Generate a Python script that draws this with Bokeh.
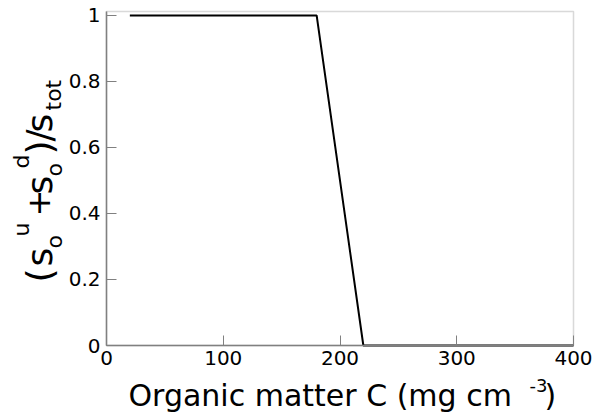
import math
from bokeh.plotting import figure
from bokeh.models import Range1d, Label, FixedTicker, BoxAnnotation
from bokeh.embed import file_html
from bokeh.resources import INLINE

# ---- data ----
carbon = [20, 180, 220, 400]          # organic matter C (mg cm^-3)
fraction = [1, 1, 0, 0]               # (s_o^u + s_o^d)/s_tot
x_ticks = [0, 100, 200, 300, 400]
y_ticks = [0, 0.2, 0.4, 0.6, 0.8, 1]
y_tick_labels = ["0", "0.2", "0.4", "0.6", "0.8", "1"]
x_tick_labels = ["0", "100", "200", "300", "400"]
x_limits = (0, 400)
y_limits = (0, 1.012)

FONT = "DejaVu Sans"
GREY = "#808080"
W, H = 593, 419
# axes box position on the canvas (pixels)
FL, FR, FB, FT = 106, 573, 345, 11
BASE_SHIFT = 0.4   # em offset of Bokeh's text anchor vs. the glyph baseline

sx = (x_limits[1] - x_limits[0]) / (FR - FL)
sy = (y_limits[1] - y_limits[0]) / (FB - FT)
XS = x_limits[0] - FL * sx
XE = XS + W * sx
YE = y_limits[1] + FT * sy
YS = YE - H * sy

def px_to_x(px):
    return XS + px * sx
def py_to_y(py):
    return YE - py * sy

p = figure(width=W, height=H, output_backend="svg", toolbar_location=None,
           x_range=Range1d(XS, XE), y_range=Range1d(YS, YE), min_border=0)
p.background_fill_color = "white"
p.border_fill_color = "white"
p.xgrid.visible = False
p.ygrid.visible = False
p.outline_line_color = None

p.xaxis.fixed_location = y_limits[0]
p.yaxis.fixed_location = x_limits[0]
p.xaxis.bounds = x_limits
p.yaxis.bounds = y_limits
p.xaxis.ticker = FixedTicker(ticks=x_ticks)
p.yaxis.ticker = FixedTicker(ticks=y_ticks)
p.xaxis.major_label_overrides = dict(zip(x_ticks, x_tick_labels))
p.yaxis.major_label_overrides = dict(zip(y_ticks, y_tick_labels))
for ax in (p.xaxis, p.yaxis):
    ax.axis_line_color = GREY
    ax.axis_line_width = 1.5
    ax.major_tick_line_color = GREY
    ax.major_tick_line_width = 1
    ax.major_tick_in = 10
    ax.major_tick_out = 0
    ax.minor_tick_line_color = None
    ax.major_label_text_font = FONT
    ax.major_label_text_font_size = "20px"
    ax.major_label_text_color = "black"
p.xaxis.major_label_standoff = 5
p.yaxis.major_label_standoff = 6

# axes box (top and right edges)
p.add_layout(BoxAnnotation(left=x_limits[0], right=x_limits[1], bottom=y_limits[0],
                           top=y_limits[1], fill_alpha=0, line_color=GREY,
                           line_width=1.5, level="underlay"))

p.line(carbon, fraction, line_color="black", line_width=2)

# y label: (s_o^u + s_o^d)/s_tot, rotated  (text, start y px, baseline x px, size)
ylabel_parts = [
    ("(", 282, 53, 36), ("s", 266, 53, 36), ("o", 248, 63, 22), ("u", 236, 30, 22),
    ("+", 216, 51, 32), ("s", 194, 53, 36), ("o", 176, 63, 22), ("d", 168, 30, 22),
    (")", 154, 53, 36), ("/", 141, 53, 36), ("s", 132, 53, 36), ("tot", 110, 62, 22),
]
for txt, ys, xb, fs in ylabel_parts:
    p.add_layout(Label(x=px_to_x(xb - BASE_SHIFT * fs), y=py_to_y(ys), text=txt,
                       angle=math.pi / 2, angle_units="rad", text_align="left",
                       text_baseline="alphabetic", text_font=FONT,
                       text_font_size=f"{fs}px", text_color="black"))

# x label: Organic matter C (mg cm^-3)   (text, start x px, baseline y px, size)
xlabel_parts = [
    ("Organic matter C (mg cm", 128, 407, 30),
    ("-3", 529, 392, 18),
    (")", 544, 407, 30),
]
for txt, xs, yb, fs in xlabel_parts:
    p.add_layout(Label(x=px_to_x(xs), y=py_to_y(yb - BASE_SHIFT * fs), text=txt,
                       text_align="left", text_baseline="alphabetic",
                       text_font=FONT, text_font_size=f"{fs}px", text_color="black"))

open("out.html", "w").write(file_html(p, INLINE))
